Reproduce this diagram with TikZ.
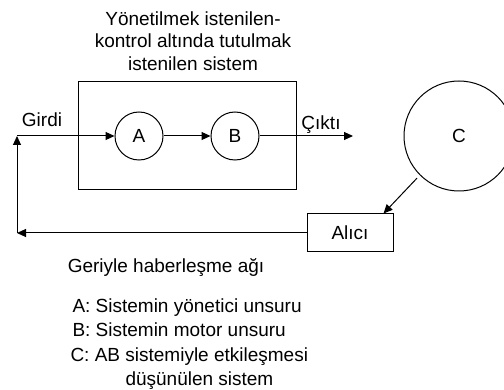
\documentclass[tikz,border=0pt]{standalone}
\usepackage{fontspec}
\setmainfont{Liberation Sans}
\usetikzlibrary{arrows.meta, calc}

\begin{document}
\begin{tikzpicture}[x=1pt, y=-1pt, line width=1pt,
    font=\fontsize{19}{22.5}\selectfont,
    arr/.style={-{Triangle[length=9pt,width=8pt]}},
    unit/.style={draw, circle, minimum size=48pt, inner sep=0pt},
    legend/.style={anchor=base west, inner sep=0pt}]
    \useasboundingbox (0,0) rectangle (504,390);

    % Title of the controlled system
    \node[align=center, inner sep=0pt] (title) at (193,41) {Yönetilmek istenilen-\\kontrol altında tutulmak\\istenilen sistem};

    % Draw the system box with its two units
    \node[draw, minimum width=218pt, minimum height=108pt, inner sep=0pt] (sys) at (187,136) {};
    \node[unit] (A) at (139,136) {A};
    \node[unit] (B) at (235,136) {B};

    % The other system and the receiver
    \node[draw, circle, minimum size=110pt, inner sep=0pt] (C) at (459,136) {C};
    \node[draw, minimum width=86pt, minimum height=38pt] (alici) at (350,233) {Alıcı};

    % Input, output and feedback lines
    \coordinate (corner) at (17,233);
    \coordinate (out) at (353,136);
    \draw[arr] (A) -- (B);
    \draw[arr] (B.east) -- (out);
    \draw[arr, shorten <=4pt] (C.225) -- ([xshift=-10pt]alici.north east);
    \draw[arr] (alici.west) -- (corner);
    \draw[arr] (corner) -- (corner |- A);
    \draw[arr] (corner |- A) -- (A.west);

    % Label the lines
    \node (girdi) at (42,120) {Girdi};
    \node (cikti) at (321,125) {Çıktı};
    \node (geri) at (166,268) {Geriyle haberleşme ağı};

    % Legend
    \node[legend] (legA) at (72,313) {A: Sistemin yönetici unsuru};
    \node[legend] (legB) at (72,337) {B: Sistemin motor unsuru};
    \node[legend] (legC) at (70,362) {C: AB sistemiyle etkileşmesi};
    \node[legend] (legD) at (125,385) {düşünülen sistem};
\end{tikzpicture}
\end{document}
